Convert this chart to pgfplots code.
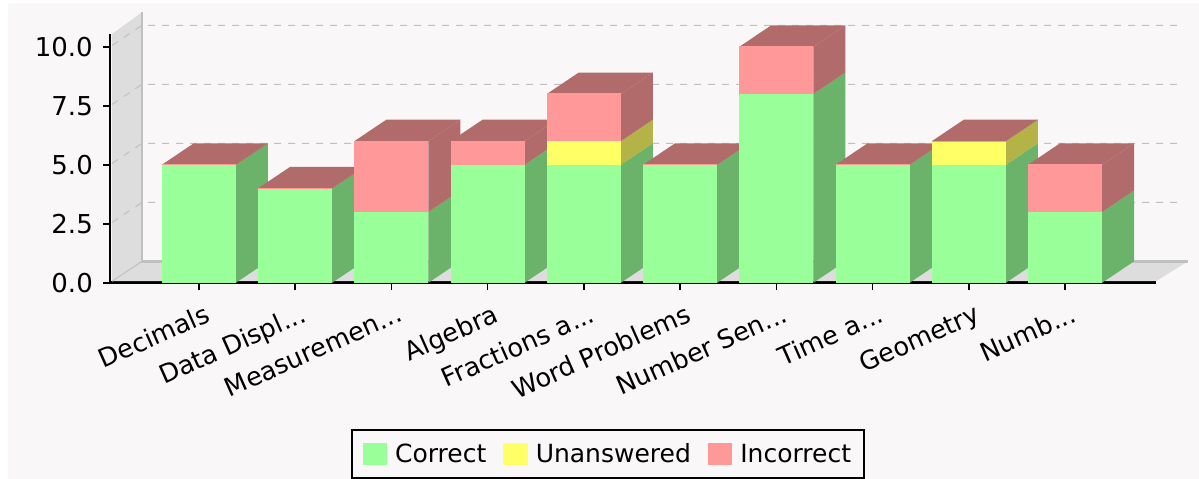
\documentclass[border=0pt]{standalone}
\usepackage{fontspec}
\setmainfont{DejaVu Sans}
\usepackage{pgfplots}
\pgfplotsset{compat=1.18}
\definecolor{bgc}{HTML}{F9F7F8}
\definecolor{gf}{HTML}{99FF99}
\definecolor{gs}{HTML}{6BB26B}
\definecolor{yf}{HTML}{FFFF66}
\definecolor{ys}{HTML}{B3B347}
\definecolor{rf}{HTML}{FF9999}
\definecolor{rs}{HTML}{B26B6B}
\definecolor{wall}{HTML}{DDDDDD}
\definecolor{walle}{HTML}{C0C0C0}
\newcommand\hw{0.3844}
\newcommand\dx{0.3325}
\newcommand\dy{0.91}
\newcommand\ddd{.{}.{}.}
% segment: x, y0, y1, front colour, side colour
\newcommand\seg[5]{%
  \pgfmathsetmacro\xa{#1-\hw}\pgfmathsetmacro\xb{#1+\hw}%
  \pgfmathsetmacro\xc{\xb+\dx}%
  \pgfmathsetmacro\ya{#2+\dy}\pgfmathsetmacro\yb{#3+\dy}%
  \addplot[fill=#5,draw=none,forget plot] coordinates {(\xb,#2)(\xc,\ya)(\xc,\yb)(\xb,#3)} -- cycle;
  \addplot[fill=#4,draw=none,forget plot] coordinates {(\xa,#2)(\xb,#2)(\xb,#3)(\xa,#3)} -- cycle;
}
% bar: x, correct, unanswered, incorrect
\newcommand\threedbar[4]{%
  \pgfmathsetmacro\ta{#2}\pgfmathsetmacro\tb{#2+#3}\pgfmathsetmacro\tc{#2+#3+#4}%
  \seg{#1}{0}{\ta}{gf}{gs}%
  \seg{#1}{\ta}{\tb}{yf}{ys}%
  \seg{#1}{\tb}{\tc}{rf}{rs}%
  \pgfmathsetmacro\xa{#1-\hw}\pgfmathsetmacro\xb{#1+\hw}%
  \pgfmathsetmacro\xc{\xb+\dx}\pgfmathsetmacro\xd{\xa+\dx}\pgfmathsetmacro\yt{\tc+\dy}%
  \addplot[fill=rs,draw=none,forget plot] coordinates {(\xa,\tc)(\xb,\tc)(\xc,\yt)(\xd,\yt)} -- cycle;
  \addplot[draw=rf,line width=1pt,forget plot] coordinates {(\xa,\tc)(\xb,\tc)};
}
\begin{document}
\begin{tikzpicture}[x=1pt,y=1pt]
\useasboundingbox (0,0) rectangle (1199,479);
\fill[bgc] (8,0) rectangle (1199,476);
\begin{axis}[
  at={(110pt,196.2pt)},anchor=south west,
  scale only axis,width=1046pt,height=249pt,
  xmin=-0.9226,xmax=9.945,ymin=0,ymax=10.55,
  clip=false,no markers,
  axis x line*=bottom,axis y line*=left,
  x axis line style={-,line width=2.8pt},
  y axis line style={-,line width=2.6pt},
  tick style={black,line width=1.6pt},
  major tick length=7pt,
  tick align=outside,
  xtick={0,1,2,3,4,5,6,7,8,9},
  xticklabels={Decimals,Data Displ\ddd,Measuremen\ddd,Algebra,Fractions a\ddd,Word Problems,Number Sen\ddd,Time a\ddd,Geometry,Numb\ddd},
  x tick label style={rotate=24,anchor=north east,font=\fontsize{25.6}{30}\selectfont,inner sep=2pt,xshift=1pt,yshift=-12pt},
  ytick={0,2.5,5,7.5,10},
  yticklabels={0.0,2.5,5.0,7.5,10.0},
  y tick label style={font=\fontsize{26}{30}\selectfont,inner sep=0pt,xshift=-10pt},
  legend columns=3,
  legend cell align=left,
  legend style={at={(0.476,-0.79)},anchor=south,draw=black,line width=2.4pt,fill=none,
    font=\fontsize{25}{30}\selectfont,
    /tikz/every odd column/.append style={column sep=6pt},
    /tikz/every even column/.append style={column sep=15pt},
    inner xsep=11pt,inner ysep=12pt},
  legend image code/.code={\fill[#1] (0pt,-10pt) rectangle (22pt,10pt);},
]
\addlegendimage{gf}\addlegendentry{Correct}
\addlegendimage{yf}\addlegendentry{Unanswered}
\addlegendimage{rf}\addlegendentry{Incorrect}
% walls
\addplot[fill=wall,draw=none,forget plot] coordinates {(-0.90,0.07)(-0.59,0.91)(-0.59,11.46)(-0.90,10.55)} -- cycle;
\addplot[fill=wall,draw=none,forget plot] coordinates {(-0.90,0.07)(-0.59,0.91)(10.2775,0.91)(9.945,0.07)} -- cycle;
\addplot[walle,line width=2.4pt,forget plot] coordinates {(-0.59,11.46)(-0.59,0.91)(10.2775,0.91)};
\addplot[walle,line width=1pt,forget plot] coordinates {(-0.90,0.07)(-0.59,0.91)};
% gridlines
\addplot[walle,line width=1pt,dash pattern=on 7pt off 7pt,forget plot] coordinates {(-0.9,2.56)(-0.59,3.41)(10.22,3.41)};
\addplot[walle,line width=1pt,dash pattern=on 7pt off 7pt,forget plot] coordinates {(-0.9,5.06)(-0.59,5.91)(10.22,5.91)};
\addplot[walle,line width=1pt,dash pattern=on 7pt off 7pt,forget plot] coordinates {(-0.9,7.56)(-0.59,8.41)(10.22,8.41)};
\addplot[walle,line width=1pt,dash pattern=on 7pt off 7pt,forget plot] coordinates {(-0.9,10.06)(-0.59,10.91)(10.22,10.91)};
% bars: position, correct, unanswered, incorrect
\threedbar{0}{5}{0}{0}
\threedbar{1}{4}{0}{0}
\threedbar{2}{3}{0}{3}
\threedbar{3}{5}{0}{1}
\threedbar{4}{5}{1}{2}
\threedbar{5}{5}{0}{0}
\threedbar{6}{8}{0}{2}
\threedbar{7}{5}{0}{0}
\threedbar{8}{5}{1}{0}
\threedbar{9}{3}{0}{2}
\end{axis}
\end{tikzpicture}
\end{document}
